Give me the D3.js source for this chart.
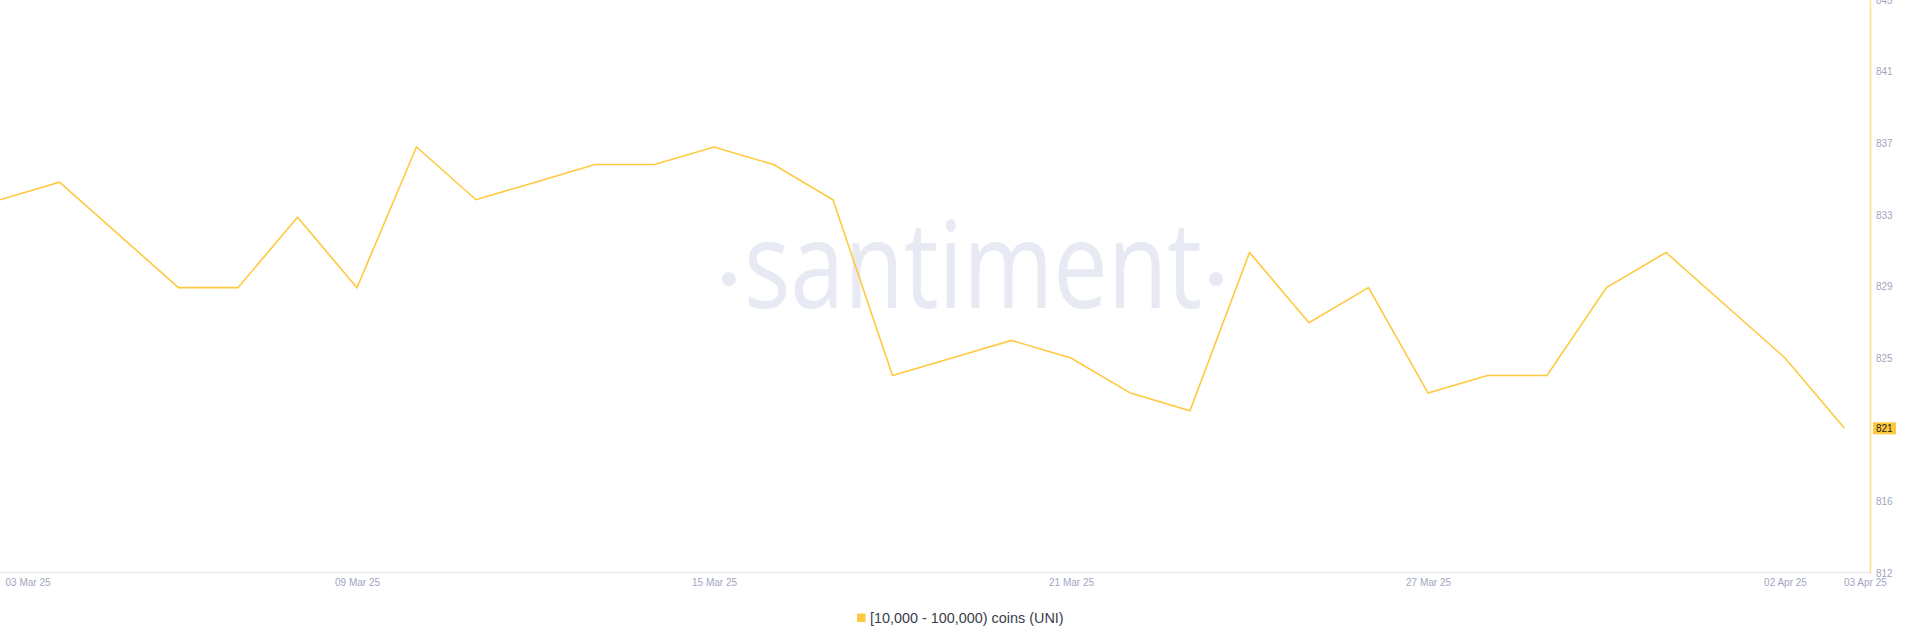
<!DOCTYPE html>
<html>
<head>
<meta charset="utf-8">
<script src="https://cdn.jsdelivr.net/npm/d3@7"></script>
<style>
  html, body { margin: 0; padding: 0; background: #ffffff; }
  svg { display: block; }
</style>
</head>
<body>
<svg id="chart" width="1918" height="643"></svg>
<script>
// ---- data ----
const dates = [
  "2025-03-03","2025-03-04","2025-03-05","2025-03-06","2025-03-07","2025-03-08","2025-03-09","2025-03-10",
  "2025-03-11","2025-03-12","2025-03-13","2025-03-14","2025-03-15","2025-03-16","2025-03-17","2025-03-18",
  "2025-03-19","2025-03-20","2025-03-21","2025-03-22","2025-03-23","2025-03-24","2025-03-25","2025-03-26",
  "2025-03-27","2025-03-28","2025-03-29","2025-03-30","2025-03-31","2025-04-01","2025-04-02","2025-04-03"
];
const holders = [
  834, 835, 832, 829, 829, 833, 829, 837,
  834, 835, 836, 836, 837, 836, 834, 824,
  825, 826, 825, 823, 822, 831, 827, 829,
  823, 824, 824, 829, 831, 828, 825, 821
];
const xTickDates = ["2025-03-03","2025-03-09","2025-03-15","2025-03-21","2025-03-27","2025-04-02","2025-04-03"];
const xTickLabels = ["03 Mar 25","09 Mar 25","15 Mar 25","21 Mar 25","27 Mar 25","02 Apr 25","03 Apr 25"];
const yTickLabels = ["812","816","821","825","829","833","837","841","845"];
const seriesName = "[10,000 - 100,000) coins (UNI)";
const yDomain = [812.77, 845.36];

// ---- layout ----
const W = 1918, H = 643;
const plotLeft = 0, plotRight = 1870, lastX = 1844.5, plotTop = 0, plotBottom = 573;
const lineColor = "#ffc93f";
const parse = d3.utcParse("%Y-%m-%d");

const svg = d3.select("#chart");
svg.append("rect").attr("width", W).attr("height", H).attr("fill", "#ffffff");

const x = d3.scaleUtc()
  .domain([parse(dates[0]), parse(dates[dates.length - 1])])
  .range([plotLeft, lastX]);
const y = d3.scaleLinear().domain(yDomain).range([plotBottom, plotTop]);

// watermark
const wm = svg.append("g").attr("fill", "#e7eaf3");
wm.append("text")
  .attr("x", 744).attr("y", 308)
  .attr("font-family", "'Open Sans', 'Noto Sans', sans-serif")
  .attr("font-size", 121)
  .attr("textLength", 458)
  .attr("lengthAdjust", "spacingAndGlyphs")
  .text("santiment");
wm.append("circle").attr("cx", 728.8).attr("cy", 279).attr("r", 7);
wm.append("circle").attr("cx", 1216).attr("cy", 279).attr("r", 7);

// horizontal baseline
svg.append("line")
  .attr("x1", plotLeft).attr("x2", plotRight)
  .attr("y1", 572.5).attr("y2", 572.5)
  .attr("stroke", "#e9ebf2").attr("stroke-width", 1.5);

// x axis
const xTicks = xTickDates.map(parse);
const xAxis = d3.axisBottom(x)
  .tickValues(xTicks)
  .tickSize(0)
  .tickPadding(7)
  .tickFormat((d, i) => xTickLabels[i]);
const gx = svg.append("g").attr("transform", "translate(0,572)").call(xAxis);
gx.select(".domain").remove();
gx.selectAll("text")
  .attr("fill", "#9fa6bf")
  .attr("font-family", "'Liberation Sans', Arial, sans-serif")
  .attr("font-size", 10);
gx.selectAll(".tick").each(function(d, i) {
  const t = d3.select(this).select("text");
  if (i === 0) t.attr("text-anchor", "start").attr("x", 5);
  if (i === xTicks.length - 1) t.attr("text-anchor", "start").attr("x", -1);
});

// y axis (right)
const yTickVals = yTickLabels.map((_, i) => yDomain[0] + i * (yDomain[1] - yDomain[0]) / (yTickLabels.length - 1));
const yAxis = d3.axisRight(y)
  .tickValues(yTickVals)
  .tickSize(0)
  .tickSizeOuter(0)
  .tickPadding(6)
  .tickFormat((d, i) => yTickLabels[i]);
const gy = svg.append("g").attr("transform", `translate(${plotRight},0)`).call(yAxis);
gy.select(".domain").attr("stroke", "#ffdf94").attr("stroke-width", 1.6);
gy.selectAll("text")
  .attr("fill", "#9fa6bf")
  .attr("font-family", "'Liberation Sans', Arial, sans-serif")
  .attr("font-size", 10);

// line
const pts = dates.map((d, i) => ({ date: parse(d), value: holders[i] }));
const line = d3.line().x(d => x(d.date)).y(d => y(d.value));
svg.append("path")
  .datum(pts)
  .attr("fill", "none")
  .attr("stroke", lineColor)
  .attr("stroke-width", 1.6)
  .attr("stroke-linejoin", "miter")
  .attr("d", line);

// last value badge
const lastVal = holders[holders.length - 1];
const by = y(lastVal);
svg.append("rect")
  .attr("x", plotRight + 3).attr("y", by - 6)
  .attr("width", 23).attr("height", 12)
  .attr("fill", lineColor);
svg.append("text")
  .attr("x", plotRight + 6).attr("y", by)
  .attr("dy", "0.35em")
  .attr("fill", "#1a1a1a")
  .attr("font-family", "'Liberation Sans', Arial, sans-serif")
  .attr("font-size", 10)
  .text(d3.format("d")(lastVal));

// legend
const lg = svg.append("g");
lg.append("rect").attr("x", 857).attr("y", 613.5).attr("width", 8.5).attr("height", 8.5).attr("fill", lineColor);
lg.append("text")
  .attr("x", 870).attr("y", 623)
  .attr("fill", "#3a3d4c")
  .attr("font-family", "'Liberation Sans', Arial, sans-serif")
  .attr("font-size", 14.4)
  .text(seriesName);
</script>
</body>
</html>
